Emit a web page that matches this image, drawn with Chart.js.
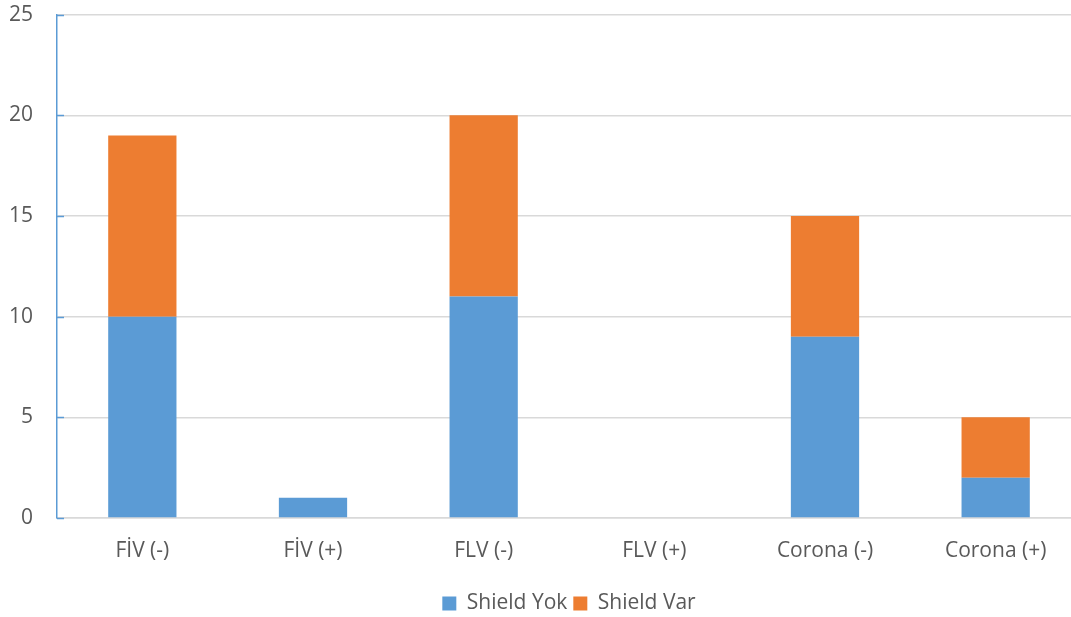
<!DOCTYPE html>
<html>
<head>
<meta charset="utf-8">
<script src="https://cdn.jsdelivr.net/npm/chart.js@4"></script>
<style>
  html, body { margin: 0; padding: 0; background: #fff; overflow: hidden; }
  #chart { display: block; margin-top: -22px; }
</style>
</head>
<body>
<canvas id="chart" width="1081" height="639"></canvas>
<script>
const categories = ["FİV (-)", "FİV (+)", "FLV (-)", "FLV (+)", "Corona (-)", "Corona (+)"];
const shieldYok = [10, 1, 11, 0, 9, 2];
const shieldVar = [9, 0, 9, 0, 6, 3];
const yTicks = [0, 5, 10, 15, 20, 25];

const textColor = "#595959";
const font = { family: "'Open Sans', sans-serif", size: 21 };

// small inward tick marks on the left axis
const innerTicks = {
  id: "inner-ticks",
  afterDraw(chart) {
    const { ctx, chartArea } = chart;
    const y = chart.scales.y;
    ctx.save();
    ctx.strokeStyle = "#5B9BD5";
    ctx.lineWidth = 1.5;
    yTicks.forEach((v) => {
      const py = Math.round(y.getPixelForValue(v)) + 0.5;
      ctx.beginPath();
      ctx.moveTo(chartArea.left, py);
      ctx.lineTo(chartArea.left + 7, py);
      ctx.stroke();
    });
    ctx.restore();
  },
};

new Chart(document.getElementById("chart"), {
  type: "bar",
  data: {
    labels: categories,
    datasets: [
      { label: "Shield Yok", data: shieldYok, backgroundColor: "#5B9BD5" },
      { label: "Shield Var", data: shieldVar, backgroundColor: "#ED7D31" },
    ],
  },
  options: {
    responsive: false,
    animation: false,
    layout: { autoPadding: false, padding: { top: 0, right: 0, bottom: -7, left: 0 } },
    datasets: { bar: { categoryPercentage: 1, barPercentage: 0.4 } },
    plugins: {
      tooltip: { enabled: false },
      legend: {
        position: "bottom",
        fullSize: false,
        labels: {
          color: textColor,
          font,
          boxWidth: 14,
          boxHeight: 14,
          padding: 6,
        },
      },
    },
    scales: {
      x: {
        stacked: true,
        grid: { display: false },
        border: { color: "#d9d9d9", width: 1.5 },
        ticks: { color: textColor, font, padding: 12 },
        afterFit(scale) { scale.height = 69; },
      },
      y: {
        stacked: true,
        min: 0,
        max: 25,
        ticks: { stepSize: 5, color: textColor, font, padding: 24 },
        grid: { color: "#d9d9d9", lineWidth: 1.5, drawTicks: false },
        border: { color: "#5B9BD5", width: 1.5 },
        afterFit(scale) { scale.width = 57; },
      },
    },
  },
  plugins: [innerTicks],
});
</script>
</body>
</html>
